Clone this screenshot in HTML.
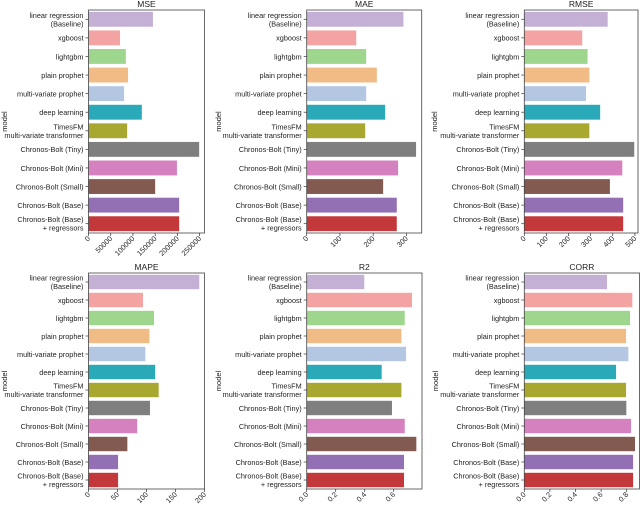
<!DOCTYPE html>
<html><head><meta charset="utf-8"><style>
html,body{margin:0;padding:0;background:#fff;}
svg{display:block;font-family:"Liberation Sans","DejaVu Sans",sans-serif;}
</style></head><body>
<svg id="chart" width="640" height="509" viewBox="0 0 640 509" xmlns="http://www.w3.org/2000/svg"></svg>
<script>
const categories = ["linear regression\n(Baseline)","xgboost","lightgbm","plain prophet","multi-variate prophet","deep learning","TimesFM\nmulti-variate transformer","Chronos-Bolt (Tiny)","Chronos-Bolt (Mini)","Chronos-Bolt (Small)","Chronos-Bolt (Base)","Chronos-Bolt (Base)\n+ regressors"];
const colors = ["#c5b0d5","#f4a3a3","#9fd68d","#f0bb84","#b3c7e3","#2aa9b8","#a8a831","#7f7f7f","#d681bf","#835a50","#9370b4","#c3393b"];
const mseValues = [145000,71000,84000,89000,80000,120000,87000,249000,199000,150000,204000,204000];
const maeValues = [291,149,179,211,179,236,176,329,275,230,271,271];
const rmseValues = [377,262,286,294,279,343,294,497,443,387,447,447];
const mapeValues = [191,94,113,105,98,115,121,106,84,67,51,51];
const r2Values = [0.397,0.726,0.676,0.653,0.685,0.517,0.653,0.588,0.676,0.756,0.671,0.671];
const corrValues = [0.646,0.844,0.826,0.795,0.813,0.717,0.795,0.797,0.834,0.865,0.85,0.85];
const mseTicks = [0,50000,100000,150000,200000,250000];
const maeTicks = [0,100,200,300];
const rmseTicks = [0,100,200,300,400,500];
const mapeTicks = [0,50,100,150,200];
const r2Ticks = [0,0.2,0.4,0.6];
const corrTicks = [0,0.2,0.4,0.6,0.8];
const titles = ["MSE","MAE","RMSE","MAPE","R2","CORR"];

const panels = [
 {name:"mse",vals:mseValues,ticks:mseTicks,max:261000,x0:88.5,x1:204.5,y0:10,y1:233,ylab:7,fmt:v=>String(v)},
 {name:"mae",vals:maeValues,ticks:maeTicks,max:346,x0:306.7,x1:421.7,y0:10,y1:233,ylab:221,fmt:v=>String(v)},
 {name:"rmse",vals:rmseValues,ticks:rmseTicks,max:514,x0:524.3,x1:638,y0:10,y1:233,ylab:437,fmt:v=>String(v)},
 {name:"mape",vals:mapeValues,ticks:mapeTicks,max:200,x0:88.5,x1:204.5,y0:273,y1:489,ylab:7,fmt:v=>String(v)},
 {name:"r2",vals:r2Values,ticks:r2Ticks,max:0.795,x0:306.7,x1:422,y0:273,y1:489,ylab:221,fmt:v=>v.toFixed(1)},
 {name:"corr",vals:corrValues,ticks:corrTicks,max:0.90,x0:524.3,x1:639.5,y0:273,y1:489,ylab:438,fmt:v=>v.toFixed(1)}
];
const NS="http://www.w3.org/2000/svg";
const svg=document.getElementById('chart');
function mk(tag,attrs,parent){const e=document.createElementNS(NS,tag);for(const k in attrs)e.setAttribute(k,attrs[k]);(parent||svg).appendChild(e);return e;}
panels.forEach((p,pi)=>{
  const g=mk('g',{});
  
  
  const xs=v=>p.x0+(v/p.max)*(p.x1-p.x0);
  const band=(p.y1-p.y0)/categories.length;
  p.vals.forEach((v,i)=>{
    const cy=p.y0+(i+0.5)*band;
    const r=mk('rect',{x:xs(0),y:cy-band*0.4,width:xs(v)-xs(0),height:band*0.8,fill:colors[i]},g);
    
    
    mk('line',{x1:p.x0-3,x2:p.x0,y1:cy,y2:cy,stroke:'#333','stroke-width':0.7},g);
    const lines=categories[i].split('\n');
    const t=mk('text',{x:p.x0-5,y:cy+(lines.length===1?2.8:-1.5),'text-anchor':'end','font-size':7.3,fill:'#222'},g);
    
    
    lines.forEach((l,j)=>{const s=mk('tspan',{x:p.x0-5,dy:j===0?0:8.5},t);s.textContent=l;});
  });
  mk('rect',{x:p.x0,y:p.y0,width:p.x1-p.x0,height:p.y1-p.y0,fill:'none',stroke:'#444','stroke-width':0.8},g);
  p.ticks.forEach(tv=>{
    const x=xs(tv);
    mk('line',{x1:x,x2:x,y1:p.y1,y2:p.y1+3,stroke:'#333','stroke-width':0.7},g);
    const t=mk('text',{x:x+2,y:p.y1+6,'text-anchor':'end','font-size':7.3,fill:'#222',transform:`rotate(-45 ${x+2} ${p.y1+6})`},g);
    
    
    t.textContent=p.fmt(tv);
  });
  const tt=mk('text',{x:(p.x0+p.x1)/2,y:p.y0-3,'text-anchor':'middle','font-size':8.5,fill:'#222'},g);
  
  
  tt.textContent=titles[pi];
  const cy=(p.y0+p.y1)/2;
  const yl=mk('text',{x:p.ylab,y:cy,'text-anchor':'middle','font-size':7.5,fill:'#222',transform:`rotate(-90 ${p.ylab} ${cy})`},g);
  
  
  yl.textContent='model';
});
</script>
</body></html>
